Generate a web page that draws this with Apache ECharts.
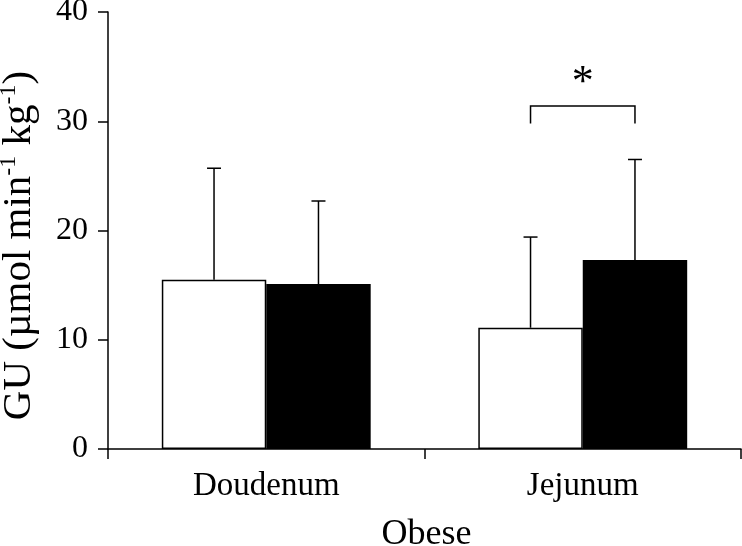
<!DOCTYPE html>
<html>
<head>
<meta charset="utf-8">
<script src="https://cdn.jsdelivr.net/npm/echarts@6/dist/echarts.min.js"></script>
<style>html,body{margin:0;padding:0;background:#fff;}#c{width:742px;height:546px;}</style>
</head>
<body>
<div id="c"></div>
<script>
const categories = ['Doudenum', 'Jejunum'];
const whiteMeans = [15.5, 11.1];
const whiteUpper = [25.7, 19.4];
const blackMeans = [15.1, 17.3];
const blackUpper = [22.7, 26.5];
const sigCategory = [1];
const sigTop = [31.4];
const sigEnd = [29.8];
const sigStarY = [33.5];
const sigLabel = ['*'];

const FONT = "'Liberation Serif', 'Times New Roman', serif";
const CAT_GAP = 0.34;

function errRender(sign) {
  return function (params, api) {
    const x = api.value(0);
    const base = api.coord([x, api.value(1)]);
    const top = api.coord([x, api.value(2)]);
    const band = api.size([1, 0])[0];
    const bw = band * (1 - CAT_GAP) / 2;
    const cx = base[0] + sign * bw / 2;
    const cap = 7;
    return {
      type: 'group',
      children: [
        { type: 'line', shape: { x1: cx, y1: base[1], x2: cx, y2: top[1] }, style: { stroke: '#000', lineWidth: 1.5 } },
        { type: 'line', shape: { x1: cx - cap, y1: top[1], x2: cx + cap, y2: top[1] }, style: { stroke: '#000', lineWidth: 1.5 } }
      ]
    };
  };
}

function sigRender(params, api) {
  const x = api.value(0);
  const t = api.coord([x, api.value(1)]);
  const e = api.coord([x, api.value(2)]);
  const s = api.coord([x, api.value(3)]);
  const band = api.size([1, 0])[0];
  const bw = band * (1 - CAT_GAP) / 2;
  const l = t[0] - bw / 2, r = t[0] + bw / 2;
  return {
    type: 'group',
    children: [
      { type: 'polyline', shape: { points: [[l, e[1]], [l, t[1]], [r, t[1]], [r, e[1]]] }, style: { stroke: '#000', lineWidth: 1.5, fill: null } },
      { type: 'text', x: s[0], y: s[1], style: { text: sigLabel[params.dataIndex], fontSize: 44, fontFamily: FONT, fill: '#000', align: 'center', verticalAlign: 'middle' } }
    ]
  };
}

const chart = echarts.init(document.getElementById('c'), null, { renderer: 'canvas' });
chart.setOption({
  animation: false,
  backgroundColor: '#fff',
  grid: { left: 108, right: 1, top: 12, bottom: 97, containLabel: false, outerBoundsMode: 'none' },
  xAxis: {
    type: 'category',
    data: categories,
    name: 'Obese',
    nameLocation: 'middle',
    nameGap: 68,
    nameTextStyle: { fontFamily: FONT, fontSize: 36, color: '#000', padding: [0, 0, 0, 4] },
    axisLine: { show: true, lineStyle: { color: '#000', width: 1.5 } },
    axisTick: { show: true, length: 10, inside: false, lineStyle: { color: '#000', width: 1.5 } },
    axisLabel: { fontFamily: FONT, fontSize: 33, color: '#000', margin: 21 },
    splitLine: { show: false }
  },
  yAxis: {
    type: 'value',
    min: 0, max: 40, interval: 10,
    name: '{n|GU (\u00b5mol min}{s|-1}{n| kg}{s|-1}{n|)}',
    nameLocation: 'middle',
    nameGap: 67,
    nameRotate: 90,
    nameTextStyle: {
      fontFamily: FONT, color: '#000', padding: [0, 30, 0, 0],
      rich: {
        n: { fontFamily: FONT, fontSize: 41, color: '#000', lineHeight: 44 },
        s: { fontFamily: FONT, fontSize: 24, color: '#000', verticalAlign: 'top', lineHeight: 44 }
      }
    },
    axisLine: { show: true, lineStyle: { color: '#000', width: 1.5 } },
    axisTick: { show: true, length: 10, inside: false, lineStyle: { color: '#000', width: 1.5 } },
    axisLabel: { fontFamily: FONT, fontSize: 32, color: '#000', margin: 20, padding: [5, 0, 0, 0] },
    splitLine: { show: false }
  },
  series: [
    { type: 'bar', data: whiteMeans, barGap: 0, barCategoryGap: (CAT_GAP * 100) + '%', itemStyle: { color: '#fff', borderColor: '#000', borderWidth: 1.5 }, z: 2 },
    { type: 'bar', data: blackMeans, barGap: 0, barCategoryGap: (CAT_GAP * 100) + '%', itemStyle: { color: '#000', borderColor: '#000', borderWidth: 0 }, z: 2 },
    { type: 'custom', renderItem: errRender(-1), data: categories.map((c, i) => [i, whiteMeans[i], whiteUpper[i]]), z: 3 },
    { type: 'custom', renderItem: errRender(1), data: categories.map((c, i) => [i, blackMeans[i], blackUpper[i]]), z: 3 },
    { type: 'custom', renderItem: sigRender, data: sigCategory.map((c, i) => [c, sigTop[i], sigEnd[i], sigStarY[i]]), z: 3 }
  ]
});
</script>
</body>
</html>
